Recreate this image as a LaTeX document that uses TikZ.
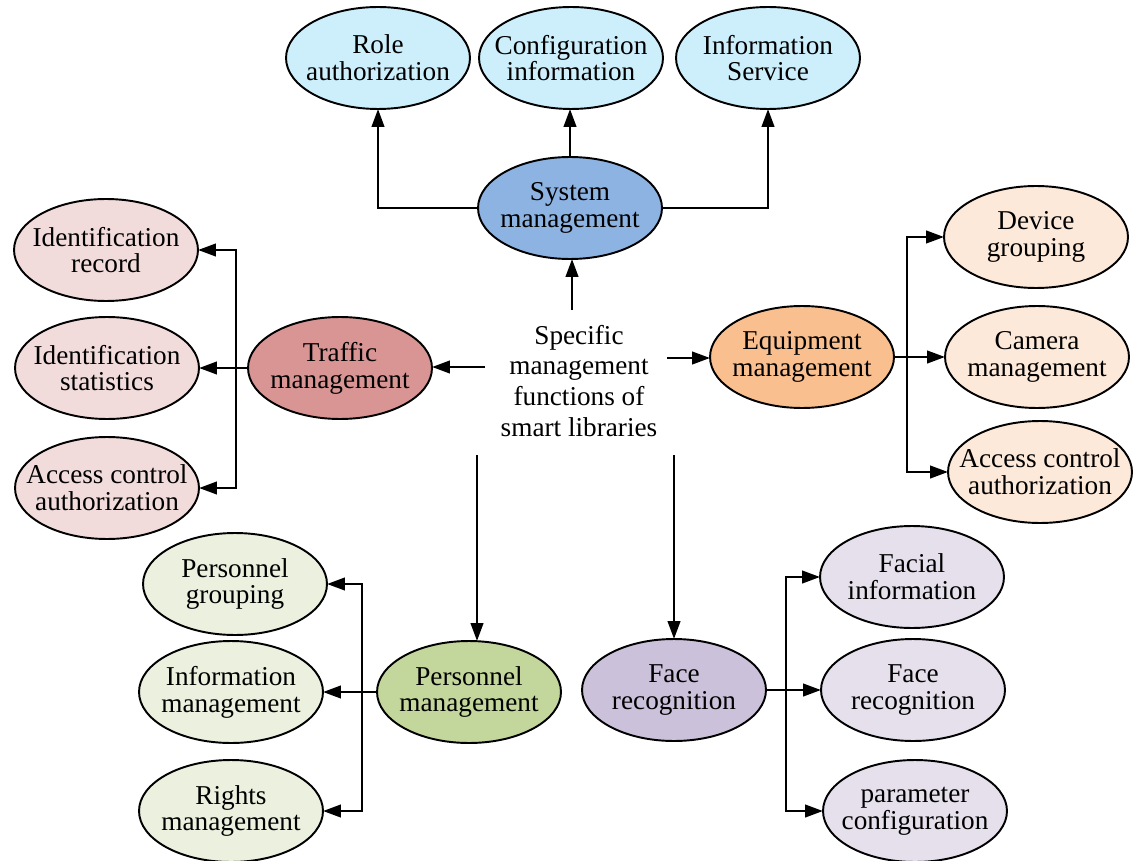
\documentclass[tikz,border=0pt]{standalone}
\usepackage{fontspec}
\setmainfont{Liberation Serif}
\usetikzlibrary{shapes.geometric,arrows.meta,calc}

\definecolor{topleaf}{RGB}{205,239,252}
\definecolor{sysfill}{RGB}{141,179,226}
\definecolor{trafmain}{RGB}{217,149,148}
\definecolor{trafleaf}{RGB}{242,220,219}
\definecolor{equipmain}{RGB}{250,191,143}
\definecolor{equipleaf}{RGB}{253,233,217}
\definecolor{persmain}{RGB}{195,214,155}
\definecolor{persleaf}{RGB}{235,241,222}
\definecolor{facemain}{RGB}{204,193,218}
\definecolor{faceleaf}{RGB}{229,224,236}

\tikzset{
  bubble/.style={ellipse, draw=black, line width=1.1pt, inner sep=0pt, outer sep=0pt,
                 minimum width=3.68cm, minimum height=2.04cm},
  lab/.style={align=center, inner sep=0pt,
              font=\fontsize{15.5}{15.2}\selectfont},
  arr/.style={line width=1.5pt,
              -{Triangle[length=0.36cm,width=0.25cm]}},
}

\begin{document}
\begin{tikzpicture}[x=0.02cm, y=-0.02cm]
  \useasboundingbox (0,0) rectangle (1138,861);

  % system management branch
  \node[bubble, fill=topleaf, label={[lab]center:Role\\authorization}] (r1) at (378,58) {};
  \node[bubble, fill=topleaf, label={[lab]center:Configuration\\information}] (r2) at (571,58) {};
  \node[bubble, fill=topleaf, label={[lab]center:Information\\Service}] (r3) at (768,58) {};
  \node[bubble, fill=sysfill, label={[lab]center:System\\management}] (sm) at (570,208) {};

  % centre text
  \node[align=center, inner sep=0pt, font=\fontsize{15.5}{17.6}\selectfont] (ctr) at (579,381)
    {Specific\\management\\functions of\\smart libraries};
  \coordinate (cUp) at (572,310);
  \coordinate (cLeft) at (485,367);
  \coordinate (cRight) at (667,358);
  \coordinate (cPM) at (477,455);
  \coordinate (cFM) at (674,455);

  % traffic management branch
  \node[bubble, fill=trafmain, label={[lab]center:Traffic\\management}] (tm) at (340,368) {};
  \node[bubble, fill=trafleaf, label={[lab]center:Identification\\record}] (t1) at (106,250) {};
  \node[bubble, fill=trafleaf, label={[lab]center:Identification\\statistics}] (t2) at (107,368) {};
  \node[bubble, fill=trafleaf, label={[lab]center:Access control\\authorization}] (t3) at (107,488) {};
  \coordinate (tb) at (236,368);

  % equipment management branch
  \node[bubble, fill=equipmain, label={[lab]center:Equipment\\management}] (em) at (802,357) {};
  \node[bubble, fill=equipleaf, label={[lab]center:Device\\grouping}] (e1) at (1036,237) {};
  \node[bubble, fill=equipleaf, label={[lab]center:Camera\\management}] (e2) at (1037,357) {};
  \node[bubble, fill=equipleaf, label={[lab]center:Access control\\authorization}] (e3) at (1040,472) {};
  \coordinate (eb) at (907,357);

  % personnel management branch
  \node[bubble, fill=persmain, label={[lab]center:Personnel\\management}] (pm) at (469,692) {};
  \node[bubble, fill=persleaf, label={[lab]center:Personnel\\grouping}] (p1) at (235,584) {};
  \node[bubble, fill=persleaf, label={[lab]center:Information\\management}] (p2) at (231,692) {};
  \node[bubble, fill=persleaf, label={[lab]center:Rights\\management}] (p3) at (231,811) {};
  \coordinate (pb) at (362,692);

  % face recognition branch
  \node[bubble, fill=facemain, label={[lab]center:Face\\recognition}] (fm) at (674,690) {};
  \node[bubble, fill=faceleaf, label={[lab]center:Facial\\information}] (f1) at (912,577) {};
  \node[bubble, fill=faceleaf, label={[lab]center:Face\\recognition}] (f2) at (913,690) {};
  \node[bubble, fill=faceleaf, label={[lab]center:parameter\\configuration}] (f3) at (915,811) {};
  \coordinate (fb) at (786,690);

  % connectors from the centre
  \draw[arr] (cUp) -- (cUp |- sm.south);
  \draw[arr] (cLeft) -- (cLeft -| tm.east);
  \draw[arr] (cRight) -- (cRight -| em.west);
  \draw[arr] (cPM) -- (cPM |- pm.north);
  \draw[arr] (cFM) -- (cFM |- fm.north);

  % system management to its items
  \draw[arr] (sm.west) -| (r1.south);
  \draw[arr] (sm.north) -- (sm.north |- r2.south);
  \draw[arr] (sm.east) -| (r3.south);

  % traffic management to its items
  \draw[arr] (tm.west) -- (t2.east);
  \draw[arr] (tb) |- (t1.east);
  \draw[arr] (tb) |- (t3.east);

  % equipment management to its items
  \draw[arr] (em.east) -- (e2.west);
  \draw[arr] (eb) |- (e1.west);
  \draw[arr] (eb) |- (e3.west);

  % personnel management to its items
  \draw[arr] (pm.west) -- (p2.east);
  \draw[arr] (pb) |- (p1.east);
  \draw[arr] (pb) |- (p3.east);

  % face recognition to its items
  \draw[arr] (fm.east) -- (f2.west);
  \draw[arr] (fb) |- (f1.west);
  \draw[arr] (fb) |- (f3.west);
\end{tikzpicture}
\end{document}
